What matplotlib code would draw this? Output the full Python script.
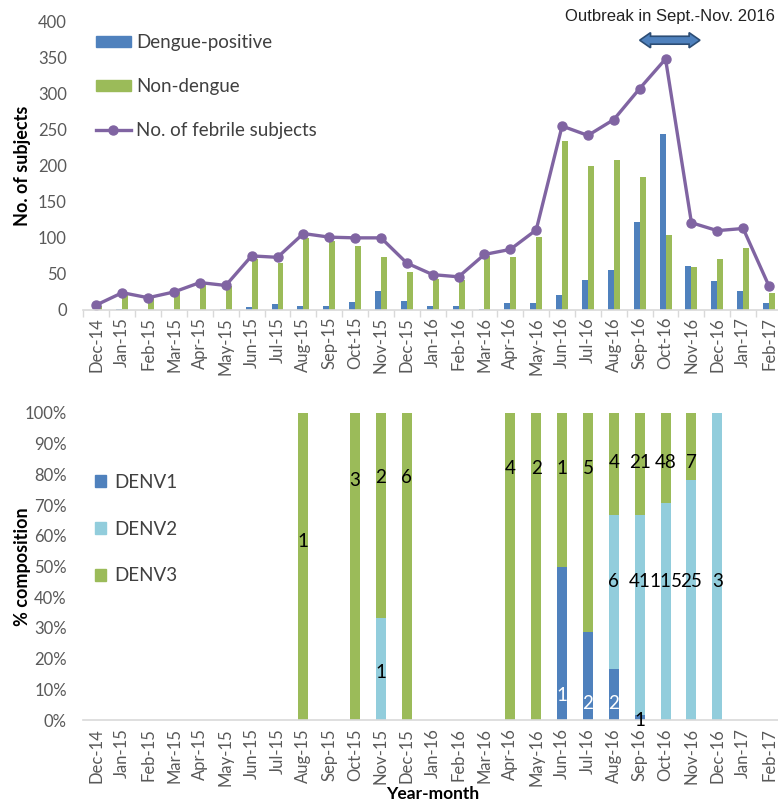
import matplotlib
matplotlib.use("Agg")
import matplotlib.pyplot as plt
import matplotlib.patches as mpatches
from matplotlib.lines import Line2D
import numpy as np

# ---- data ----
months = ["Dec-14", "Jan-15", "Feb-15", "Mar-15", "Apr-15", "May-15", "Jun-15",
          "Jul-15", "Aug-15", "Sep-15", "Oct-15", "Nov-15", "Dec-15", "Jan-16",
          "Feb-16", "Mar-16", "Apr-16", "May-16", "Jun-16", "Jul-16", "Aug-16",
          "Sep-16", "Oct-16", "Nov-16", "Dec-16", "Jan-17", "Feb-17"]
febrile = [7, 24, 17, 25, 38, 34, 75, 73, 106, 101, 100, 100, 65, 49, 46, 77,
           84, 111, 255, 242, 264, 307, 348, 121, 110, 113, 33]
dengue_pos = [0, 1, 0, 0, 0, 1, 4, 8, 6, 5, 11, 27, 12, 6, 5, 2,
              10, 10, 21, 42, 56, 122, 244, 61, 40, 27, 10]
non_dengue = [5, 22, 17, 25, 37, 33, 71, 65, 100, 96, 89, 73, 53, 43, 41, 75,
              74, 101, 234, 200, 208, 185, 104, 60, 70, 86, 23]

denv1 = [0, 0, 0, 0, 0, 0, 0, 0, 0, 0, 0, 0, 0, 0, 0, 0, 0, 0, 1, 2, 2, 1, 0, 0, 0, 0, 0]
denv2 = [0, 0, 0, 0, 0, 0, 0, 0, 0, 0, 0, 1, 0, 0, 0, 0, 0, 0, 0, 0, 6, 41, 115, 25, 3, 0, 0]
denv3 = [0, 0, 0, 0, 0, 0, 0, 0, 1, 0, 3, 2, 6, 0, 0, 0, 4, 2, 1, 5, 4, 21, 48, 7, 0, 0, 0]

# where the count labels sit in the composition chart (fraction of bar height)
label_y_denv3 = {"Aug-15": 0.58, "Oct-15": 0.78, "Nov-15": 0.79, "Dec-15": 0.79}
label_y_denv2 = {"Nov-15": 0.155}
label_y_denv1 = {"Jun-16": 0.08, "Sep-16": 0.0}

BLUE = "#4f81bd"
GREEN = "#9bbb59"
PURPLE = "#8064a2"
LIGHTBLUE = "#92cddc"
GRAY = "#595959"
AXIS = "#d9d9d9"

plt.rcParams["font.family"] = ["Lato", "DejaVu Sans"]

fig = plt.figure(figsize=(7.78, 8.01), dpi=100)
ax1 = fig.add_axes([0.1073, 0.613, 0.8978, 0.3602])
ax2 = fig.add_axes([0.1073, 0.1011, 0.8978, 0.3833])

x = np.arange(len(months))

# ---- top: counts ----
bw = 0.23
ax1.bar(x - bw / 2, dengue_pos, width=bw, color=BLUE, label="Dengue-positive")
ax1.bar(x + bw / 2, non_dengue, width=bw, color=GREEN, label="Non-dengue")
ax1.plot(x, febrile, color=PURPLE, lw=2.4, marker="o", ms=6.5,
         label="No. of febrile subjects")
ax1.set_ylim(0, 400)
ax1.set_yticks(range(0, 401, 50))
ax1.set_ylabel("No. of subjects", fontsize=13, fontweight="bold")

# outbreak arrow (double headed block arrow)
xa0, xa1, ya = 21.0, 23.33, 374
hl, sh, hh = 0.42, 5.5, 10.5
arrow_pts = [(xa0, ya), (xa0 + hl, ya + hh), (xa0 + hl, ya + sh), (xa1 - hl, ya + sh),
             (xa1 - hl, ya + hh), (xa1, ya), (xa1 - hl, ya - hh), (xa1 - hl, ya - sh),
             (xa0 + hl, ya - sh), (xa0 + hl, ya - hh)]
ax1.add_patch(mpatches.Polygon(arrow_pts, closed=True, facecolor="#4f81bd",
                               edgecolor="#2c4d75", lw=1.2, clip_on=False, zorder=5))
fig.text(775 / 778, 1 - 17 / 801, "Outbreak in Sept.-Nov. 2016", ha="right",
         va="center", fontsize=12, family="Liberation Sans", color="#222222")

h1 = [mpatches.Rectangle((0, 0), 1, 1, color=BLUE),
      mpatches.Rectangle((0, 0), 1, 1, color=GREEN),
      Line2D([0], [0], color=PURPLE, lw=2.4, marker="o", ms=6.5)]
leg1 = ax1.legend(h1, ["Dengue-positive", "Non-dengue", "No. of febrile subjects"],
                  loc="upper left", bbox_to_anchor=(96 / 778, 1 - 34 / 801),
                  bbox_transform=fig.transFigure, frameon=False, fontsize=13.5,
                  labelspacing=1.45, handlelength=1.85, handleheight=0.55,
                  handletextpad=0.3, borderaxespad=0, borderpad=0)
for t in leg1.get_texts():
    t.set_color("#404040")

# ---- bottom: composition ----
tot = np.array(denv1) + np.array(denv2) + np.array(denv3)
safe = np.where(tot > 0, tot, 1)
p1 = np.array(denv1) / safe
p2 = np.array(denv2) / safe
p3 = np.array(denv3) / safe
bw2 = 0.39
ax2.bar(x, p1, width=bw2, color=BLUE, label="DENV1")
ax2.bar(x, p2, width=bw2, bottom=p1, color=LIGHTBLUE, label="DENV2")
ax2.bar(x, p3, width=bw2, bottom=p1 + p2, color=GREEN, label="DENV3")
ax2.set_ylim(0, 1)
ax2.set_yticks(np.arange(0, 1.01, 0.1))
ax2.set_yticklabels([f"{int(round(v * 100))}%" for v in np.arange(0, 1.01, 0.1)])
ax2.set_ylabel("% composition", fontsize=13, fontweight="bold")
fig.text(0.5 * (83.5 + 782) / 778, 1 - 794 / 801, "Year-month", ha="center",
         va="center", fontsize=12.5, fontweight="bold")

for i, m in enumerate(months):
    if denv3[i]:
        yy = label_y_denv3.get(m, 0.82 if i < 20 else 0.84)
        ax2.text(i, yy, str(denv3[i]), ha="center", va="center", fontsize=13.5, color="black")
    if denv2[i]:
        yy = label_y_denv2.get(m, 0.45)
        ax2.text(i, yy, str(denv2[i]), ha="center", va="center", fontsize=13.5, color="black")
    if denv1[i]:
        yy = label_y_denv1.get(m, 0.055)
        col = "black" if p1[i] < 0.05 else "white"
        ax2.text(i, yy, str(denv1[i]), ha="center", va="center", fontsize=13.5, color=col)

h2 = [mpatches.Rectangle((0, 0), 1, 1, color=c) for c in (BLUE, LIGHTBLUE, GREEN)]
leg2 = ax2.legend(h2, ["DENV1", "DENV2", "DENV3"], loc="upper left",
                  bbox_to_anchor=(95 / 778, 1 - 474 / 801),
                  bbox_transform=fig.transFigure, frameon=False, fontsize=13.5,
                  labelspacing=1.58, handlelength=0.6, handleheight=0.6,
                  handletextpad=0.4, borderaxespad=0, borderpad=0)
for t in leg2.get_texts():
    t.set_color("#404040")

# ---- shared axis styling ----
for ax in (ax1, ax2):
    ax.set_xlim(-0.5, len(months) - 0.5)
    ax.set_xticks(x)
    ax.set_xticklabels(months, rotation=90)
    for s in ("top", "right", "left"):
        ax.spines[s].set_visible(False)
    ax.spines["bottom"].set_color(AXIS)
    ax.spines["bottom"].set_linewidth(1.2)
    ax.tick_params(axis="y", length=0, labelsize=12, labelcolor=GRAY, pad=12)
    ax.tick_params(axis="x", which="major", length=0, labelsize=12, labelcolor=GRAY)
    ax.yaxis.set_label_coords((31 - 83.5) / 698.5, 0.5)

ax1.set_xticks(np.arange(-0.5, len(months), 1), minor=True)
ax1.tick_params(axis="x", which="minor", length=5, color=AXIS, width=1)
ax1.tick_params(axis="x", which="major", pad=5)
ax2.tick_params(axis="x", which="major", pad=6)

fig.savefig("out.png", dpi=100)
